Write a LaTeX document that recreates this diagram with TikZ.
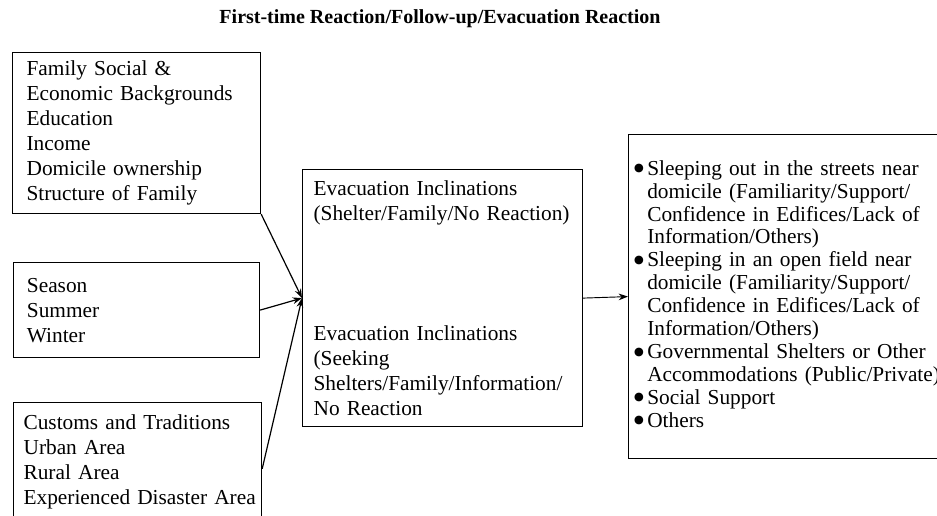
\documentclass[tikz,border=0pt]{standalone}
\usepackage{fontspec}
\setmainfont{Liberation Serif}
\usetikzlibrary{arrows.meta, positioning}
\newcommand{\bul}{\makebox[11pt][l]{\raisebox{-0.25em}{\scalebox{1.7}{\textbullet}}}}
\newcommand{\ind}{\hspace*{11pt}}

\begin{document}
\begin{tikzpicture}[x=0.75pt, y=-0.75pt,
		infobox/.style={draw, line width=0.9pt, anchor=north west, align=left,
			inner ysep=0pt, font=\fontsize{16pt}{18.75pt}\selectfont},
		flow/.style={line width=0.9pt, -{Stealth[length=7pt, width=5pt]}}]
			\useasboundingbox (0,0) rectangle (937,516);
			\clip (0,0) rectangle (937,516);
			% title
			\node[font=\fontsize{15pt}{18pt}\selectfont\bfseries] (title) at (440,19)
				{First-time Reaction/Follow-up/Evacuation Reaction};
			% factor boxes on the left
			\node[infobox, minimum width=186pt, minimum height=120.75pt, inner xsep=10.5pt, text width=165pt]
				(family) at (12,52) {Family Social \&\\Economic Backgrounds\\Education\\Income\\Domicile ownership\\Structure of Family};
			\node[infobox, minimum width=184.5pt, minimum height=71.25pt, inner xsep=10pt, text width=164.5pt]
				(season) at (13,262) {Season\\Summer\\Winter};
			\node[infobox, minimum width=186pt, minimum height=89.25pt, inner xsep=7.5pt, text width=171pt]
				(customs) at (13,402) {Customs and Traditions\\Urban Area\\Rural Area\\\mbox{Experienced Disaster Area}};
			% inclinations
			\node[infobox, minimum width=210pt, minimum height=192.75pt, inner xsep=8.25pt, text width=193.5pt]
				(incl) at (302,169) {Evacuation Inclinations\\(Shelter/Family/No Reaction)\\[71.25pt]
				Evacuation Inclinations\\(Seeking\\Shelters/Family/Information/\\No Reaction};
			% outcomes
			\node[infobox, minimum width=240pt, minimum height=243pt, inner xsep=3pt, text width=234pt,
				font=\fontsize{16pt}{17.2pt}\selectfont]
				(outcome) at (628,134) {\bul Sleeping out in the streets near\\\ind domicile (Familiarity/Support/\\\ind Confidence in Edifices/Lack of\\\ind Information/Others)\\
				\bul Sleeping in an open field near\\\ind domicile (Familiarity/Support/\\\ind Confidence in Edifices/Lack of\\\ind Information/Others)\\
				\bul Governmental Shelters or Other\\\ind Accommodations (Public/Private)\\
				\bul Social Support\\\bul Others};
			% connectors
			\draw[flow] (family.south east) -- (incl.west);
			\draw[flow] (season.east) -- (incl.west);
			\draw[flow] ([yshift=-5pt]customs.east) -- (incl.west);
			\draw[flow, line width=0.7pt] (incl.east) -- (outcome.west);
		\end{tikzpicture}
\end{document}
